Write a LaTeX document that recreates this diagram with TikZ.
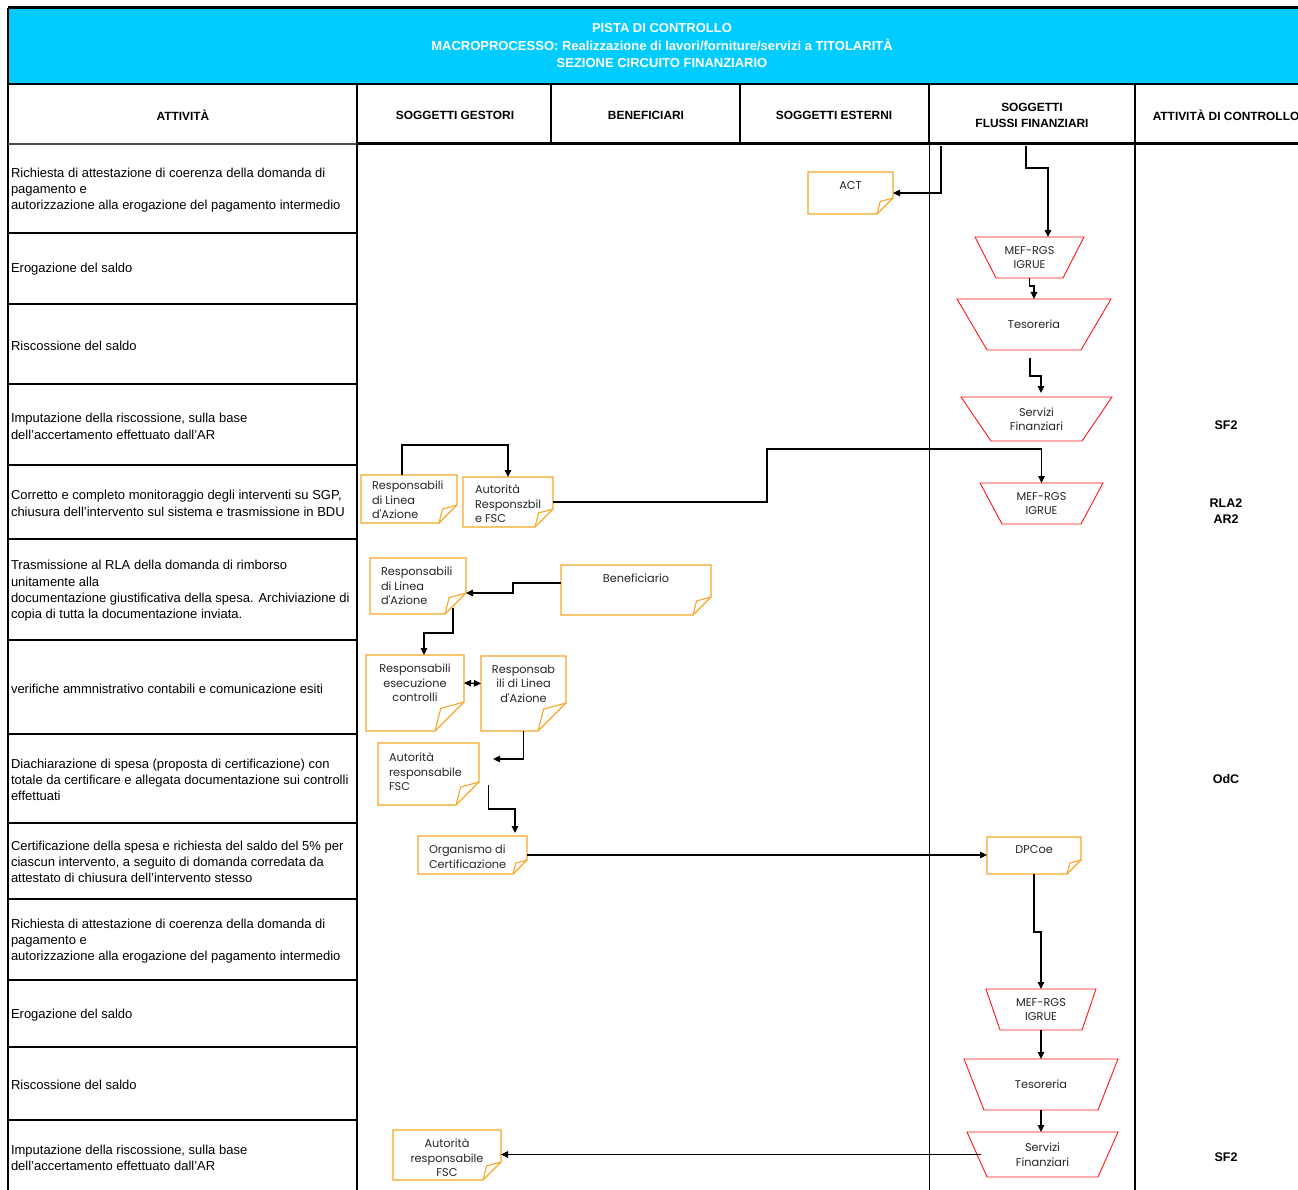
\documentclass[tikz,border=0pt]{standalone}
\usepackage{fontspec}
\setmainfont{Liberation Sans}
\newfontfamily\gothicfont{Poppins}
\usetikzlibrary{arrows.meta}
\definecolor{band}{RGB}{0,204,255}
\definecolor{docorange}{RGB}{247,166,38}
\definecolor{flowred}{RGB}{255,20,20}

\begin{document}
\begin{tikzpicture}[x=1pt,y=-1pt,>={Triangle[length=7pt,width=6.5pt]},
    every node/.style={inner sep=0pt,outer sep=0pt},
    cell/.style={anchor=west,align=left,font=\fontsize{13}{16.3}\selectfont},
    head/.style={align=center,font=\bfseries\fontsize{11.9}{16}\selectfont},
    ctrl/.style={align=center,font=\bfseries\fontsize{12.5}{16}\selectfont},
    tl/.style={anchor=north,yshift=-9pt,align=center,text=black!85,font=\gothicfont\fontsize{11.3}{14.5}\selectfont},
    tlw/.style={tl,anchor=north west,xshift=11pt,align=left},
    doc/.style={append after command={\pgfextra{
        \draw[docorange,line width=1.1pt] (\tikzlastnode.north west) -- (\tikzlastnode.north east)
          -- ([yshift=#1]\tikzlastnode.south east) -- ([xshift=-#1]\tikzlastnode.south east)
          -- (\tikzlastnode.south west) -- cycle;
        \draw[docorange,line width=1.1pt] ([xshift=-#1]\tikzlastnode.south east)
          -- ([xshift=-0.8*#1,yshift=0.78*#1]\tikzlastnode.south east) -- ([yshift=#1]\tikzlastnode.south east);}}},
    trap/.style={align=center,text=black!85,font=\gothicfont\fontsize{11.3}{14.5}\selectfont,
      append after command={\pgfextra{
        \draw[flowred,line width=0.9pt] (\tikzlastnode.north west) -- (\tikzlastnode.north east)
          -- ([xshift=-#1]\tikzlastnode.south east) -- ([xshift=#1]\tikzlastnode.south west) -- cycle;}}},
    flow/.style={->,line width=1.1pt}]
  \useasboundingbox (0,0) rectangle (1298,1190);

  % table frame
  \fill[band] (8,8) rectangle (1298,84);
  \draw[line width=3pt] (8,8) -- (1298,8);
  \draw[line width=2pt] (8,8) -- (8,1190);
  \draw[line width=1.5pt] (8,84) -- (1298,84);
  \foreach \x in {357,551,740,929,1135}
    \draw[line width=1.2pt] (\x,84) -- (\x,144);
  \draw[line width=1.5pt,black!70] (8,144) -- (357,144);
  \draw[line width=3pt] (357,144) -- (1298,144);
  \draw[line width=2pt] (357,144) -- (357,1190);
  \draw[line width=1pt] (929,144) -- (929,1190);
  \draw[line width=1.5pt] (1135,144) -- (1135,1190);
  \foreach \y in {233,304,384,465,539,640,734,823,899,980,1047,1120}
    \draw[line width=1.5pt] (8,\y) -- (357,\y);

  % titles
  \node[font=\bfseries\fontsize{13}{17.5}\selectfont,text=white,align=center] (title) at (662,46)
    {PISTA DI CONTROLLO\\MACROPROCESSO: Realizzazione di lavori/forniture/servizi a TITOLARITÀ\\SEZIONE CIRCUITO FINANZIARIO};
  \node[head] (hatt) at (183,115) {ATTIVITÀ};
  \node[head] (hges) at (455,115) {SOGGETTI GESTORI};
  \node[head] (hben) at (646,115) {BENEFICIARI};
  \node[head] (hest) at (834,115) {SOGGETTI ESTERNI};
  \node[head] (hflu) at (1032,115) {SOGGETTI\\FLUSSI FINANZIARI};
  \node[head] (hctl) at (1226,115) {ATTIVITÀ DI CONTROLLO};

  % activities
  \node[cell] (att1) at (11,190) {Richiesta di attestazione di coerenza della domanda di\\pagamento e\\autorizzazione alla erogazione del pagamento intermedio};
  \node[cell] (att2) at (11,269.5) {Erogazione del saldo};
  \node[cell] (att3) at (11,345.5) {Riscossione del saldo};
  \node[cell] (att4) at (11,426.5) {Imputazione della riscossione, sulla base\\dell'accertamento effettuato dall'AR};
  \node[cell] (att5) at (11,503.5) {Corretto e completo monitoraggio degli interventi su SGP,\\chiusura dell'intervento sul sistema e trasmissione in BDU};
  \node[cell] (att6) at (11,591) {Trasmissione al RLA della domanda di rimborso\\unitamente alla\\documentazione giustificativa della spesa. Archiviazione di\\copia di tutta la documentazione inviata.};
  \node[cell] (att7) at (11,689) {verifiche ammnistrativo contabili e comunicazione esiti};
  \node[cell] (att8) at (11,780) {Diachiarazione di spesa (proposta di certificazione) con\\totale da certificare e allegata documentazione sui controlli\\effettuati};
  \node[cell] (att9) at (11,862) {Certificazione della spesa e richiesta del saldo del 5\% per\\ciascun intervento, a seguito di domanda corredata da\\attestato di chiusura dell'intervento stesso};
  \node[cell] (att10) at (11,941) {Richiesta di attestazione di coerenza della domanda di\\pagamento e\\autorizzazione alla erogazione del pagamento intermedio};
  \node[cell] (att11) at (11,1015) {Erogazione del saldo};
  \node[cell] (att12) at (11,1085) {Riscossione del saldo};
  \node[cell] (att13) at (11,1158) {Imputazione della riscossione, sulla base\\dell'accertamento effettuato dall'AR};

  % controls
  \node[ctrl] (ctl1) at (1226,425) {SF2};
  \node[ctrl] (ctl2) at (1226,511) {RLA2\\AR2};
  \node[ctrl] (ctl3) at (1226,779) {OdC};
  \node[ctrl] (ctl4) at (1226,1157) {SF2};

  % documents
  \node[doc=16,minimum width=85pt,minimum height=42pt,label={[tl,yshift=-1pt]north:ACT}] (act) at (850.5,193) {};
  \node[doc=18,minimum width=96pt,minimum height=48pt,label={[tlw,yshift=3pt]north west:Responsabili\\di Linea\\d'Azione}] (respA) at (409,499) {};
  \node[doc=18,minimum width=90pt,minimum height=50pt,label={[tlw,xshift=1pt,yshift=1pt]north west:Autorità\\Responszbil\\e FSC}] (autA) at (508,502) {};
  \node[doc=21,minimum width=96pt,minimum height=56pt,label={[tlw]north west:Responsabili\\di Linea\\d'Azione}] (respB) at (418,586) {};
  \node[doc=18,minimum width=150pt,minimum height=50pt,label={[tl]north:Beneficiario}] (benef) at (636,590) {};
  \node[doc=29,minimum width=98pt,minimum height=76pt,label={[tl]north:Responsabili\\esecuzione\\controlli}] (rexec) at (415,693) {};
  \node[doc=28,minimum width=85pt,minimum height=75pt,label={[tl]north:Responsab\\ili di Linea\\d'Azione}] (rlin) at (523.5,693.5) {};
  \node[doc=23,minimum width=101pt,minimum height=62pt,label={[tlw,yshift=-1pt]north west:Autorità\\responsabile\\FSC}] (autB) at (428.5,774) {};
  \node[doc=14,minimum width=109pt,minimum height=38pt,label={[tlw]north west:Organismo di\\Certificazione}] (org) at (472.5,855) {};
  \node[doc=14,minimum width=94pt,minimum height=37pt,label={[tl]north:DPCoe}] (dpc) at (1034,855.5) {};
  \node[doc=18,minimum width=108pt,minimum height=50pt,label={[tl]north:Autorità\\responsabile\\FSC}] (autC) at (447,1155) {};

  % financial flows
  \node[trap=21,minimum width=109pt,minimum height=41pt] (mef1) at (1029.5,257.5) {MEF-RGS\\IGRUE};
  \node[trap=30,minimum width=154pt,minimum height=51pt] (tes1) at (1034,324.5) {Tesoreria};
  \node[trap=30,minimum width=151pt,minimum height=44pt] (serv1) at (1036.5,419) {Servizi\\Finanziari};
  \node[trap=22,minimum width=123pt,minimum height=41pt] (mef2) at (1041.5,503.5) {MEF-RGS\\IGRUE};
  \node[trap=14,minimum width=110pt,minimum height=41pt] (mef3) at (1041,1009.5) {MEF-RGS\\IGRUE};
  \node[trap=20,minimum width=154pt,minimum height=51pt] (tes2) at (1041,1084.5) {Tesoreria};
  \node[trap=20,minimum width=151pt,minimum height=45pt] (serv2) at (1042.5,1154.5) {Servizi\\Finanziari};

  % connectors
  \coordinate (topA) at (941,146);
  \coordinate (topB) at (1026,146);
  \draw[flow] (topA) |- (act.east);
  \draw[flow] (topB) -- ++(0,22) -| ([xshift=18.5pt]mef1.north);
  \draw[flow] (mef1.south) -- ++(0,8) -| (tes1.north);
  \draw[flow] ([xshift=-4pt,yshift=-8pt]tes1.south) -- ++(0,18) -| ([xshift=4.5pt,yshift=4pt]serv1.north);
  \draw[flow] ([xshift=-7pt]respA.north) -- ++(0,-30) -| (autA.north);
  \draw[flow] (autA.east) -- ++(214,0) |- ([yshift=34pt]mef2.north) -- (mef2.north);
  \draw[flow] ([yshift=7pt]benef.west) -- ++(-48,0) |- ([yshift=-7pt]respB.east);
  \draw[flow] ([xshift=35pt,yshift=6pt]respB.south) -- ++(0,25) -| ([xshift=9pt]rexec.north);
  \draw[flow,<->] ([yshift=10pt]rexec.east) -- ([yshift=10pt]rlin.west);
  \draw[flow] (rlin.south) |- ([xshift=14pt,yshift=15pt]autB.east);
  \draw[flow] ([xshift=9.5pt,yshift=-11pt]autB.east) -- ++(0,24) -| ([xshift=42.5pt,yshift=3pt]org.north);
  \draw[flow] (org.east) -- (org.east -| dpc.west);
  \draw[flow] (dpc.south) -- ++(0,58) -| (mef3.north);
  \draw[flow] (mef3.south) -- (tes2.north);
  \draw[flow] (tes2.south) -- (tes2.south |- serv2.north);
  \draw[flow] ([xshift=14pt]serv2.west) -- (serv2.west -| autC.east);
\end{tikzpicture}
\end{document}
